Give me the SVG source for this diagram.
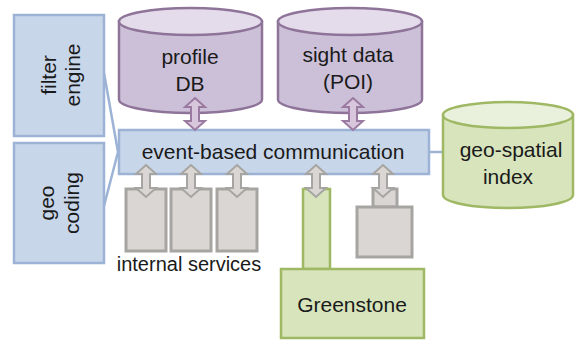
<svg xmlns="http://www.w3.org/2000/svg" width="577" height="340" viewBox="0 0 577 340">
  <style>
    .lbl { font-family: "Liberation Sans", Arial, sans-serif; font-size: 21px; fill: #1a1a1a; text-anchor: middle; }
    .small { font-size: 20px; }
    .blue { fill: #c8d6ea; stroke: #9cb3d6; stroke-width: 2.5; }
    .purple { fill: #ccc0d9; stroke: #8f7499; stroke-width: 2.5; }
    .purple-top { fill: #e4dcea; stroke: #8f7499; stroke-width: 2.5; }
    .green { fill: #d7e4bc; stroke: #9fb864; stroke-width: 2.5; }
    .green-top { fill: #e9f0dc; stroke: #9fb864; stroke-width: 2.5; }
    .gray { fill: #d9d6d3; stroke: #a7a5a2; stroke-width: 3; }
    .link { fill: none; stroke: #9cb3d6; stroke-width: 2.5; }
    .arr-p { fill: #d8c7dc; stroke: #9a7aa0; stroke-width: 2; }
    .arr-g { fill: #d9d6d3; stroke: #a7a5a2; stroke-width: 2; }
  </style>
  <defs>
    <!-- double-headed block arrow, 32 long, tip at origin -->
    <path id="dbl" d="M0,0 L10,9 L4,9 L4,23 L10,23 L0,32 L-10,23 L-4,23 L-4,9 L-10,9 Z"/>
  </defs>

  <!-- connectors: side modules to bus, bus to spatial index -->
  <g id="connectors">
    <polyline class="link" points="104,73 118,152 104,206"/>
    <line class="link" x1="429" y1="152" x2="443" y2="152"/>
  </g>

  <g id="filter-engine">
    <rect class="blue" x="14" y="15" width="90" height="121"/>
    <text class="lbl" transform="translate(56,75) rotate(-90)"><tspan x="0" y="0">filter</tspan><tspan x="0" y="24">engine</tspan></text>
  </g>

  <g id="geo-coding">
    <rect class="blue" x="14" y="143" width="90" height="120"/>
    <text class="lbl" transform="translate(54,203) rotate(-90)"><tspan x="0" y="0">geo</tspan><tspan x="0" y="25">coding</tspan></text>
  </g>

  <g id="profile-db">
    <path class="purple" d="M119,21.5 L119,99.5 A71.5,13.5 0 0 0 262,99.5 L262,21.5 Z"/>
    <ellipse class="purple-top" cx="190.5" cy="21.5" rx="71.5" ry="13.5"/>
    <text class="lbl" x="190" y="64">profile</text>
    <text class="lbl" x="190" y="91">DB</text>
  </g>

  <g id="sight-data">
    <path class="purple" d="M278,21.5 L278,99.5 A72,13.5 0 0 0 422,99.5 L422,21.5 Z"/>
    <ellipse class="purple-top" cx="350" cy="21.5" rx="72" ry="13.5"/>
    <text class="lbl" x="348" y="62">sight data</text>
    <text class="lbl" x="348" y="89">(POI)</text>
  </g>

  <g id="geo-spatial-index">
    <path class="green" d="M443,115 L443,195 A65,13 0 0 0 573,195 L573,115 Z"/>
    <ellipse class="green-top" cx="508" cy="115" rx="65" ry="13"/>
    <text class="lbl" x="511" y="157">geo-spatial</text>
    <text class="lbl" x="508" y="184">index</text>
  </g>

  <g id="event-bus">
    <rect class="blue" x="119" y="130" width="310" height="44"/>
    <text class="lbl" x="273" y="159">event-based communication</text>
  </g>

  <g id="internal-services">
    <rect class="gray" x="126" y="189" width="40" height="62"/>
    <rect class="gray" x="171" y="189" width="40" height="62"/>
    <rect class="gray" x="217" y="189" width="40" height="62"/>
    <text class="lbl small" x="189" y="271">internal services</text>
  </g>

  <g id="greenstone">
    <rect class="green" x="303" y="189" width="27" height="80"/>
    <rect class="green" x="281" y="269" width="143" height="69"/>
    <text class="lbl" x="352" y="312">Greenstone</text>
  </g>

  <g id="external-service">
    <rect class="gray" x="373" y="189" width="24" height="18"/>
    <rect class="gray" x="357" y="207" width="55" height="50"/>
  </g>

  <!-- bus access arrows -->
  <g id="bus-arrows">
    <use href="#dbl" class="arr-p" x="195" y="98"/>
    <use href="#dbl" class="arr-p" x="353" y="98"/>
    <use href="#dbl" class="arr-g" x="146" y="165"/>
    <use href="#dbl" class="arr-g" x="191" y="165"/>
    <use href="#dbl" class="arr-g" x="237" y="165"/>
    <use href="#dbl" class="arr-g" x="316" y="165"/>
    <use href="#dbl" class="arr-g" x="383" y="165"/>
  </g>
</svg>
